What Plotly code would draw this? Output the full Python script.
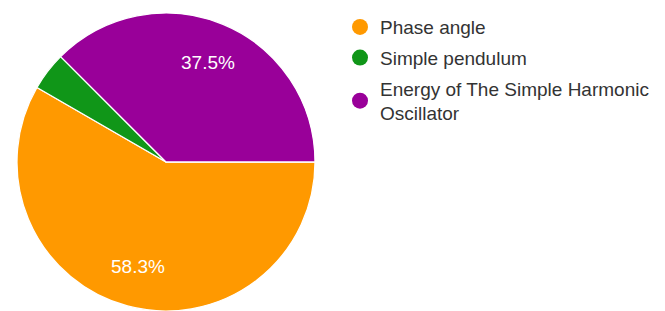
import math
import plotly.graph_objects as go

labels = ["Phase angle", "Simple pendulum", "Energy of The Simple Harmonic<br>Oscillator"]
values = [14, 1, 9]
colors = ["#ff9900", "#109618", "#990099"]

# page body has a default 8px margin; size figure so it fills the window
W, H = 657, 303
FONT = "Arial, Liberation Sans, sans-serif"

# pie placement in figure pixels
px_left, px_right, px_top, px_bottom = 7, 309, 2, 303
cx = (px_left + px_right) / 2
cy = (px_top + px_bottom) / 2
r = 149

fig = go.Figure()
fig.add_trace(go.Pie(
    labels=labels,
    values=values,
    marker=dict(colors=colors, line=dict(color="white", width=1.3)),
    sort=False,
    direction="clockwise",
    rotation=90,
    textinfo="none",
    domain=dict(x=[px_left / W, px_right / W], y=[max(0.0, 1 - px_bottom / H), 1 - px_top / H]),
    showlegend=False,
    hoverinfo="label+percent",
))

# percentage labels on the bisector of each slice (small slices unlabeled)
total = sum(values)
cum = 0
for v in values:
    frac = v / total
    mid = 2 * math.pi * (cum + frac / 2)
    cum += frac
    if frac < 0.05:
        continue
    x = cx + 0.73 * r * math.cos(mid)
    y = cy + 0.73 * r * math.sin(mid)
    fig.add_annotation(
        x=x / W, y=1 - y / H, xref="paper", yref="paper",
        text=f"{frac * 100:.1f}%", showarrow=False,
        xanchor="center", yanchor="middle",
        font=dict(color="white", size=19, family=FONT),
    )

for i, (lab, col) in enumerate(zip(labels, colors)):
    fig.add_trace(go.Scatter(
        x=[None], y=[None], mode="markers", name=lab,
        marker=dict(symbol="circle", size=19, color=col),
        legendgroup=f"g{i}", showlegend=True,
    ))

fig.update_layout(
    width=W, height=H,
    margin=dict(l=0, r=0, t=0, b=0),
    paper_bgcolor="white", plot_bgcolor="white",
    xaxis=dict(visible=False), yaxis=dict(visible=False),
    legend=dict(
        x=332 / W, y=1 + 3 / H, xanchor="left", yanchor="top",
        font=dict(size=19, color="#333333", family=FONT),
        tracegroupgap=3, bgcolor="rgba(0,0,0,0)",
    ),
)

fig.write_html("out.html")
